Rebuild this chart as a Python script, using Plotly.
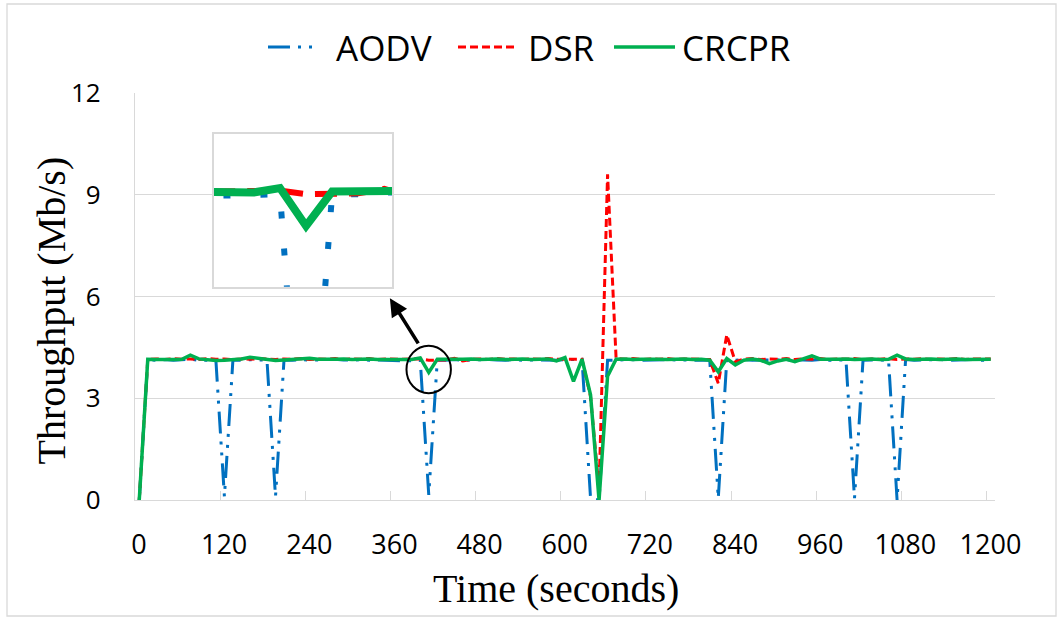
import plotly.graph_objects as go

# Sampling instants (s) and measured throughput (Mb/s) per routing protocol
time_s = list(range(0, 1201, 12))

aodv = [
    0.00, 4.13, 4.12, 4.14, 4.12, 4.13, 4.15, 4.12, 4.13, 4.12,
    0.10, 4.13, 4.12, 4.14, 4.13, 4.12, 0.10, 4.13, 4.12, 4.14,
    4.12, 4.13, 4.12, 4.15, 4.13, 4.12, 4.14, 4.12, 4.13, 4.12,
    4.10, 4.10, 4.11, 4.12, 0.15, 4.12, 4.12, 4.14, 4.12, 4.13,
    4.12, 4.14, 4.13, 4.12, 4.14, 4.12, 4.13, 4.12, 4.13, 4.12,
    4.14, 4.15, 4.15, 0.05, 0.00, 4.12, 4.13, 4.12, 4.14, 4.12,
    4.13, 4.12, 4.14, 4.13, 4.12, 4.13, 4.12, 4.12, 0.05, 4.13,
    4.12, 4.14, 4.12, 4.13, 4.12, 4.13, 4.14, 4.12, 4.13, 4.12,
    4.14, 4.12, 4.13, 4.12, 0.05, 4.12, 4.13, 4.12, 4.12, 0.00,
    4.14, 4.12, 4.13, 4.12, 4.14, 4.12, 4.13, 4.12, 4.14, 4.12,
    4.13,
]

dsr = [
    0.00, 4.15, 4.16, 4.14, 4.17, 4.15, 4.16, 4.14, 4.17, 4.15,
    4.16, 4.14, 4.16, 4.15, 4.17, 4.15, 4.14, 4.16, 4.15, 4.17,
    4.14, 4.16, 4.15, 4.17, 4.14, 4.16, 4.15, 4.17, 4.14, 4.16,
    4.15, 4.15, 4.16, 4.16, 4.12, 4.13, 4.13, 4.18, 4.10, 4.15,
    4.16, 4.14, 4.17, 4.15, 4.16, 4.14, 4.16, 4.15, 4.17, 4.15,
    4.16, 4.15, 4.15, 3.05, 0.30, 9.60, 4.18, 4.15, 4.17, 4.14,
    4.16, 4.15, 4.17, 4.14, 4.16, 4.15, 4.14, 4.14, 3.44, 4.87,
    4.08, 4.15, 4.17, 4.14, 4.16, 4.15, 4.17, 4.14, 4.16, 4.15,
    4.17, 4.14, 4.16, 4.15, 4.17, 4.14, 4.16, 4.15, 4.17, 4.14,
    4.16, 4.15, 4.17, 4.14, 4.16, 4.15, 4.17, 4.14, 4.16, 4.15,
    4.16,
]

crcpr = [
    0.00, 4.15, 4.14, 4.13, 4.14, 4.15, 4.27, 4.16, 4.14, 4.11,
    4.12, 4.14, 4.16, 4.21, 4.17, 4.14, 4.11, 4.13, 4.15, 4.16,
    4.18, 4.15, 4.14, 4.15, 4.16, 4.14, 4.15, 4.16, 4.14, 4.15,
    4.14, 4.14, 4.14, 4.19, 3.76, 4.15, 4.14, 4.15, 4.15, 4.16,
    4.14, 4.15, 4.16, 4.14, 4.15, 4.16, 4.14, 4.15, 4.16, 4.10,
    4.20, 3.50, 4.15, 3.10, 0.00, 3.65, 4.15, 4.16, 4.14, 4.15,
    4.16, 4.15, 4.14, 4.15, 4.16, 4.14, 4.15, 4.12, 3.78, 4.17,
    3.98, 4.12, 4.16, 4.12, 4.02, 4.10, 4.15, 4.08, 4.16, 4.25,
    4.15, 4.14, 4.15, 4.16, 4.14, 4.15, 4.16, 4.14, 4.15, 4.27,
    4.16, 4.14, 4.15, 4.16, 4.14, 4.15, 4.16, 4.14, 4.15, 4.16,
    4.15,
]

x_tick_labels = [0, 120, 240, 360, 480, 600, 720, 840, 960, 1080, 1200]
y_tick_values = [0, 3, 6, 9, 12]

SERIES = [
    ("AODV", aodv, "#0070C0", "22px,8px,3px,8px,3px,8px", 3.0,
     "7px,30px", 6.0),
    ("DSR", dsr, "#FF0000", "8px,4px", 3.0, "22px,12px", 6.0),
    ("CRCPR", crcpr, "#00B050", "solid", 3.5, "solid", 8.0),
]

# Canvas and plot-area geometry (px)
W, H = 1063, 621
ML, MR, MT, MB = 135, 68, 93, 121
PW, PH = W - ML - MR, H - MT - MB
GRID = "#d9d9d9"
STEP = time_s[1] - time_s[0]
HALF = STEP / 2


def paper_x(px):
    return (px - ML) / PW


def paper_y(py):
    return (H - MB - py) / PH


fig = go.Figure()

# Main series
for name, vals, color, dash, width, _, _ in SERIES:
    fig.add_trace(go.Scatter(
        x=time_s, y=vals, mode="lines", name=name, showlegend=False,
        line=dict(color=color, width=width, dash=dash),
        xaxis="x", yaxis="y",
    ))

# Magnified view around the dip at 408 s
INSET_X = [365.6, 447.6]
INSET_Y = [3.07, 4.80]
for name, vals, color, _, _, dash_in, width_in in SERIES:
    fig.add_trace(go.Scatter(
        x=time_s, y=vals, mode="lines", showlegend=False,
        line=dict(color=color, width=width_in, dash=dash_in),
        xaxis="x2", yaxis="y2",
    ))

# Tick marks sit between samples, labels on the samples
tick_pos = [v - HALF for v in x_tick_labels]
tick_shift = int(round(HALF * PW / (time_s[-1] + STEP)))

fig.update_layout(
    width=W, height=H,
    margin=dict(l=ML, r=MR, t=MT, b=MB, pad=0, autoexpand=False),
    paper_bgcolor="white", plot_bgcolor="white",
    font=dict(family="Open Sans", color="black"),
    xaxis=dict(
        domain=[0, 1], range=[time_s[0] - HALF, time_s[-1] + HALF],
        tickmode="array", tickvals=tick_pos,
        ticktext=[str(v) for v in x_tick_labels],
        ticklabelshift=tick_shift, ticklabelstandoff=20,
        ticks="inside", ticklen=9, tickwidth=1.3, tickcolor=GRID,
        showgrid=False, zeroline=False,
        showline=True, linecolor=GRID, linewidth=1.3,
        tickfont=dict(size=27, family="Open Sans", color="black"),
    ),
    yaxis=dict(
        domain=[0, 1], range=[0, 12],
        tickmode="array", tickvals=y_tick_values,
        ticks="", ticklabelstandoff=28,
        showgrid=True, gridcolor=GRID, gridwidth=1.3, zeroline=False,
        showline=True, linecolor=GRID, linewidth=1.3,
        tickfont=dict(size=26, family="Open Sans", color="black"),
    ),
    xaxis2=dict(
        domain=[paper_x(214), paper_x(392)], anchor="y2", range=INSET_X,
        showgrid=False, zeroline=False, showticklabels=False, ticks="",
        showline=True, mirror=True, linecolor=GRID, linewidth=1.5,
    ),
    yaxis2=dict(
        domain=[paper_y(286.7), paper_y(134.3)], anchor="x2", range=INSET_Y,
        showgrid=False, zeroline=False, showticklabels=False, ticks="",
        showline=True, mirror=True, linecolor=GRID, linewidth=1.5,
    ),
)

shapes = [
    # white backing for the magnified view
    dict(type="rect", xref="x2", yref="y2", layer="below",
         x0=INSET_X[0], x1=INSET_X[1], y0=INSET_Y[0], y1=INSET_Y[1],
         fillcolor="white", line=dict(width=0)),
    # ring around the dip at 408 s
    dict(type="circle", xref="x", yref="y",
         x0=376.6, x1=439.2, y0=3.15, y1=4.55,
         line=dict(color="black", width=2)),
    # chart frame
    dict(type="rect", xref="paper", yref="paper",
         x0=paper_x(7), x1=paper_x(1056), y0=paper_y(616), y1=paper_y(4),
         line=dict(color=GRID, width=1.3)),
]

annotations = [
    dict(xref="x", yref="y", x=353.2, y=5.95, ax=29.3, ay=46.7,
         axref="pixel", ayref="pixel", text="", showarrow=True,
         arrowhead=2, arrowsize=1, arrowwidth=3.6, arrowcolor="black",
         standoff=0, startstandoff=0),
    dict(xref="paper", yref="paper", x=paper_x(556), y=paper_y(588),
         xanchor="center", yanchor="middle", showarrow=False,
         text="Time (seconds)",
         font=dict(family="Liberation Serif", size=40, color="black")),
    dict(xref="paper", yref="paper", x=paper_x(51), y=paper_y(310.5),
         xanchor="center", yanchor="middle", showarrow=False, textangle=-90,
         text="Throughput (Mb/s)",
         font=dict(family="Liberation Serif", size=40, color="black")),
]

# Legend row across the top
LEGEND_Y = 47
legend_layout = [(268, 320, 334), (458, 518, 526), (614, 675, 680)]
for (name, _, color, dash, width, _, _), (l0, l1, tx) in zip(SERIES, legend_layout):
    shapes.append(dict(type="line", xref="paper", yref="paper",
                       x0=paper_x(l0), x1=paper_x(l1),
                       y0=paper_y(LEGEND_Y), y1=paper_y(LEGEND_Y),
                       line=dict(color=color, width=width, dash=dash)))
    annotations.append(dict(xref="paper", yref="paper", x=paper_x(tx),
                            y=paper_y(LEGEND_Y), xanchor="left",
                            yanchor="middle", showarrow=False, text=name,
                            font=dict(family="Open Sans", size=35,
                                      color="black")))

fig.update_layout(shapes=shapes, annotations=annotations)

fig.write_html("out.html")
